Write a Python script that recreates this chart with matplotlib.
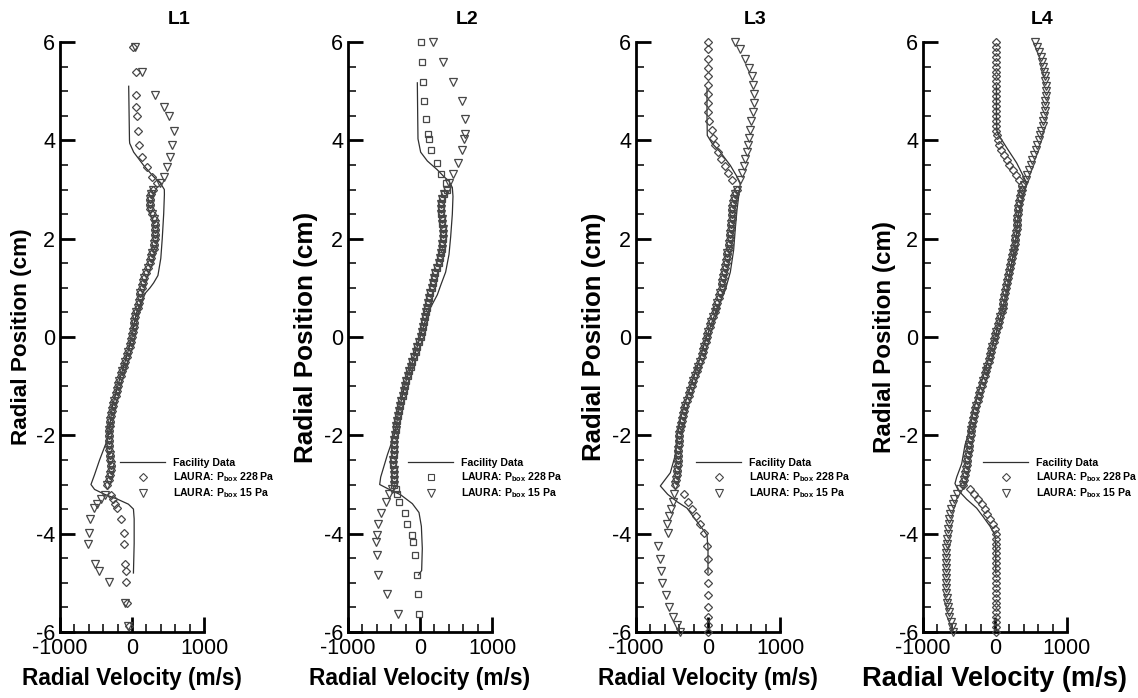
import matplotlib
matplotlib.use("Agg")
import matplotlib.pyplot as plt
from matplotlib.lines import Line2D
from matplotlib.ticker import MultipleLocator, FixedLocator

plt.rcParams['font.family'] = ['Liberation Sans', 'DejaVu Sans']
plt.rcParams['mathtext.fontset'] = 'custom'
plt.rcParams['mathtext.rm'] = 'Liberation Sans'
plt.rcParams['mathtext.bf'] = 'Liberation Sans:bold'
plt.rcParams['mathtext.it'] = 'Liberation Sans:italic'
plt.rcParams['axes.unicode_minus'] = False

# ---------------- data ----------------
titles = ['L1', 'L2', 'L3', 'L4']
legend_labels = ['Facility Data',
                 r'LAURA: P$_{\mathbf{box}}$ 228 Pa',
                 r'LAURA: P$_{\mathbf{box}}$ 15 Pa']

# shared y rows of the dense central part of the LAURA profiles (cm)
y_center = [3.0, 2.9, 2.8, 2.7, 2.6, 2.5, 2.4, 2.3, 2.2, 2.1,
            2.0, 1.9, 1.8, 1.7, 1.6, 1.5, 1.4, 1.3, 1.2, 1.1,
            1.0, 0.9, 0.8, 0.7, 0.6, 0.5, 0.4, 0.3, 0.2, 0.1,
            0.0, -0.1, -0.2, -0.3, -0.4, -0.5, -0.6, -0.7, -0.8, -0.9,
            -1.0, -1.1, -1.2, -1.3, -1.4, -1.5, -1.6, -1.7, -1.8, -1.9,
            -2.0, -2.1, -2.2, -2.3, -2.4, -2.5, -2.6, -2.7, -2.8, -2.9, -3.0]

# ---- L1 ----
L1_y_top = [5.89, 5.39, 4.92, 4.67, 4.50, 4.20, 3.90, 3.67, 3.45, 3.26, 3.13]
L1_228_top = [10, 60, 60, 60, 69, 79, 93, 139, 208, 278, 347]
L1_15_top = [40, 140, 324, 449, 509, 579, 556, 532, 486, 440, 394]
L1_center = [285, 270, 255, 245, 255, 278, 300, 315, 324, 324,
             315, 310, 301, 278, 264, 245, 222, 199, 171, 153,
             139, 116, 106, 93, 79, 60, 46, 32, 23, 14,
             0, -14, -32, -56, -69, -93, -116, -134, -153, -176,
             -194, -208, -227, -245, -264, -278, -292, -301, -310, -315,
             -324, -324, -320, -315, -310, -301, -292, -287, -301, -324, -347]
L1_y_bot = [-3.21, -3.30, -3.39, -3.48, -3.71, -3.98, -4.22, -4.61, -4.75, -4.98, -5.40, -5.88]
L1_228_bot = [-290, -260, -235, -208, -153, -116, -106, -93, -83, -79, -69, -46]
L1_15_bot = [-380, -430, -480, -530, -580, -600, -605, -509, -463, -324, -93, -60]
L1_fac_y = [5.10, 4.50, 4.00, 3.94, 3.76, 3.49, 3.26, 3.13, 3.00, 2.90,
            2.50, 2.00, 1.60, 1.25, 1.10, 1.00, 0.90, 0.75, 0.50, 0.30,
            0.00, -0.40, -0.90, -1.40, -1.90, -2.00, -2.10, -2.50, -2.80, -3.00,
            -3.10, -3.20, -3.30, -3.40, -3.50, -3.70, -4.20, -4.80]
L1_fac_x = [-46, -40, -35, -32, 23, 162, 300, 394, 449, 450,
            440, 420, 400, 360, 300, 250, 190, 140, 65, 32,
            0, -75, -180, -270, -320, -330, -345, -450, -520, -570,
            -520, -380, -200, -50, 20, 30, 30, 20]

# ---- L2 ----
L2_y_top = [6.00, 5.59, 5.18, 4.80, 4.44, 4.12, 4.03, 3.81, 3.54, 3.31, 3.13]
L2_228_top = [19, 23, 37, 56, 88, 106, 125, 157, 231, 296, 356]
L2_15_top = [185, 319, 463, 579, 625, 625, 611, 588, 528, 463, 403]
L2_center = [370, 330, 300, 290, 287, 295, 305, 312, 318, 319,
             315, 310, 300, 290, 278, 264, 240, 215, 195, 180,
             165, 140, 125, 112, 102, 90, 75, 60, 42, 25,
             9, -15, -38, -60, -85, -108, -130, -152, -172, -190,
             -205, -225, -243, -260, -278, -292, -306, -318, -327, -335,
             -345, -355, -361, -365, -368, -370, -370, -365, -361, -361, -365]
L2_y_bot = [-3.10, -3.20, -3.35, -3.57, -3.80, -4.03, -4.16, -4.43, -4.84, -5.23, -5.64]
L2_228_bot = [-340, -320, -292, -208, -176, -116, -93, -69, -46, -28, -15]
L2_15_bot = [-390, -430, -477, -546, -579, -602, -616, -593, -579, -454, -310]
L2_fac_y = [5.17, 4.50, 4.03, 3.76, 3.58, 3.40, 3.26, 3.17, 3.04, 2.86,
            2.50, 2.04, 1.68, 1.32, 1.05, 0.86, 0.50, 0.14, -0.30, -0.90,
            -1.50, -1.94, -2.40, -2.85, -3.00, -3.08, -3.21, -3.39, -3.57, -3.85,
            -4.30, -4.75, -4.84]
L2_fac_x = [-37, -32, -28, 9, 102, 241, 333, 403, 449, 458,
            449, 426, 403, 356, 287, 241, 110, 32, -60, -195,
            -295, -345, -454, -546, -560, -454, -268, -106, -14, 19,
            32, 23, -20]

# ---- L3 ----
L3_y_top = [6.00, 5.85, 5.66, 5.48, 5.30, 5.12, 4.94, 4.76, 4.58, 4.40,
            4.22, 4.05, 3.90, 3.76, 3.62, 3.48, 3.34, 3.20]
L3_228_top = [0, 0, 0, 0, 0, -5, 0, 0, 0, 10, 50, 75, 100, 140, 185, 232, 280, 340]
L3_15_top = [380, 449, 519, 565, 605, 628, 634, 634, 622, 600, 588, 570, 560, 545, 515, 495, 470, 440]
L3_center = [400, 380, 360, 350, 340, 333, 328, 324, 319, 312,
             305, 298, 285, 270, 258, 245, 235, 225, 212, 200,
             188, 170, 152, 130, 110, 93, 70, 48, 25, 5,
             -14, -30, -50, -69, -90, -112, -135, -158, -185, -208,
             -228, -250, -270, -292, -315, -332, -350, -365, -378, -390,
             -398, -403, -407, -410, -414, -418, -422, -427, -433, -445, -460]
L3_y_bot = [-3.20, -3.35, -3.50, -3.65, -3.80, -3.98, -4.25, -4.52, -4.75, -5.00,
            -5.25, -5.49, -5.70, -5.85, -6.00]
L3_228_bot = [-330, -280, -222, -165, -116, -55, -14, 0, 0, 0, 0, -5, 0, 0, 0]
L3_15_bot = [-470, -480, -510, -540, -570, -560, -690, -665, -650, -640, -580, -540, -480, -430, -390]
L3_fac_y = [5.05, 4.50, 4.10, 3.94, 3.76, 3.49, 3.26, 3.13, 2.86, 2.59,
            2.22, 1.77, 1.32, 0.96, 0.50, 0.00, -0.50, -1.00, -1.40, -1.67,
            -2.03, -2.40, -2.76, -2.94, -3.03, -3.20, -3.35, -3.48, -3.71, -3.89,
            -4.03, -4.30, -4.80]
L3_fac_x = [-14, -14, -10, 56, 171, 310, 403, 449, 426, 403,
            380, 356, 310, 241, 105, -20, -125, -240, -330, -384,
            -430, -454, -523, -616, -662, -560, -430, -292, -176, -83,
            -14, 0, 0]

# ---- L4 ----
L4_y_top = [6.0, 5.9, 5.8, 5.7, 5.6, 5.5, 5.4, 5.3, 5.2, 5.1,
            5.0, 4.9, 4.8, 4.7, 4.6, 4.5, 4.4, 4.3, 4.2, 4.1,
            4.0, 3.9, 3.8, 3.7, 3.6, 3.5, 3.4, 3.3, 3.2, 3.1]
L4_228_top = [8, 10, 10, 8, 10, 10, 12, 10, 10, 8,
              10, 10, 12, 10, 10, 12, 12, 15, 18, 25,
              35, 55, 90, 130, 165, 200, 245, 285, 330, 375]
L4_15_top = [556, 585, 610, 640, 655, 670, 680, 690, 697, 702,
             704, 704, 700, 695, 688, 680, 671, 660, 645, 628,
             610, 585, 565, 540, 515, 495, 470, 450, 428, 405]
L4_center = [380, 365, 352, 340, 325, 318, 312, 305, 300, 292,
             283, 272, 260, 248, 233, 220, 208, 196, 183, 170,
             158, 143, 130, 118, 105, 93, 75, 58, 38, 20,
             0, -17, -35, -52, -69, -88, -105, -125, -145, -165,
             -185, -203, -222, -240, -260, -278, -292, -305, -318, -330,
             -338, -345, -356, -365, -375, -385, -394, -402, -410, -425, -440]
L4_y_bot = [-3.1, -3.2, -3.3, -3.4, -3.5, -3.6, -3.7, -3.8, -3.9, -4.0,
            -4.1, -4.2, -4.3, -4.4, -4.5, -4.6, -4.7, -4.8, -4.9, -5.0,
            -5.1, -5.2, -5.3, -5.4, -5.5, -5.6, -5.7, -5.8, -5.9, -6.0]
L4_228_bot = [-347, -290, -231, -185, -140, -105, -70, -30, -5, 10,
              14, 12, 12, 10, 12, 12, 10, 12, 12, 10,
              12, 12, 10, 12, 12, 10, 12, 12, 10, 12]
L4_15_bot = [-480, -532, -565, -590, -605, -620, -632, -642, -650, -658,
             -664, -670, -674, -677, -680, -681, -682, -682, -681, -680,
             -677, -674, -670, -664, -655, -645, -632, -615, -598, -580]
L4_fac_y = [5.10, 4.50, 4.20, 4.12, 3.85, 3.54, 3.27, 3.13, 2.50, 2.00,
            1.50, 1.00, 0.50, 0.00, -0.50, -1.00, -1.50, -1.85, -2.20, -2.58,
            -2.85, -2.98, -3.12, -3.30, -3.48, -3.66, -3.85, -4.03, -4.30, -4.80]
L4_fac_x = [20, 20, 25, 46, 162, 301, 394, 440, 325, 290,
            230, 170, 95, 0, -100, -205, -300, -347, -417, -463,
            -532, -556, -509, -394, -255, -162, -69, 0, 10, 10]

panels = [
    dict(title='L1', fac=(L1_fac_x, L1_fac_y), top=(L1_y_top, L1_228_top, L1_15_top),
         center=L1_center, bot=(L1_y_bot, L1_228_bot, L1_15_bot), m228='D'),
    dict(title='L2', fac=(L2_fac_x, L2_fac_y), top=(L2_y_top, L2_228_top, L2_15_top),
         center=L2_center, bot=(L2_y_bot, L2_228_bot, L2_15_bot), m228='s'),
    dict(title='L3', fac=(L3_fac_x, L3_fac_y), top=(L3_y_top, L3_228_top, L3_15_top),
         center=L3_center, bot=(L3_y_bot, L3_228_bot, L3_15_bot), m228='D'),
    dict(title='L4', fac=(L4_fac_x, L4_fac_y), top=(L4_y_top, L4_228_top, L4_15_top),
         center=L4_center, bot=(L4_y_bot, L4_228_bot, L4_15_bot), m228='D'),
]

# ---------------- layout / style ----------------
W, H = 1138, 698
fig = plt.figure(figsize=(W / 100, H / 100), dpi=100)
lefts_px = [60, 348, 636, 923]
ax_w_px, ax_top_px, ax_bot_px = 144, 42, 632
ylabel_off = [-0.264, -0.29, -0.29, -0.27]
ylabel_fs = [16.2, 18.8, 18.6, 17.4]
xlabel_fs = [16.3, 16.4, 16.3, 19.6]

line_col = '#303030'
mk_col = '#474747'
msize = {'D': 4.4, 's': 5.0, 'v': 5.7}

for i, p in enumerate(panels):
    ax = fig.add_axes([lefts_px[i] / W, (H - ax_bot_px) / H,
                       ax_w_px / W, (ax_bot_px - ax_top_px) / H])
    ax.set_xlim(-1000, 1000)
    ax.set_ylim(-6, 6)
    for s in ['top', 'right']:
        ax.spines[s].set_visible(False)
    for s in ['left', 'bottom']:
        ax.spines[s].set_linewidth(2.0)
    ax.xaxis.set_major_locator(FixedLocator([-1000, 0, 1000]))
    ax.xaxis.set_minor_locator(MultipleLocator(200))
    ax.yaxis.set_major_locator(MultipleLocator(2))
    ax.yaxis.set_minor_locator(MultipleLocator(0.5))
    ax.tick_params(which='major', direction='in', length=11, width=2.0,
                   labelsize=15.5, pad=4)
    ax.tick_params(which='minor', direction='in', length=5.5, width=1.1)
    ax.tick_params(axis='y', which='major', pad=3.5)

    fx, fy = p['fac']
    ax.plot(fx, fy, color=line_col, lw=0.9, zorder=3)

    yt, x228t, x15t = p['top']
    yb, x228b, x15b = p['bot']
    y_all = list(yt) + y_center + list(yb)
    x228_all = list(x228t) + p['center'] + list(x228b)
    x15_all = list(x15t) + p['center'] + list(x15b)
    m228 = p['m228']
    ax.plot(x15_all, y_all, ls='none', marker='v', ms=msize['v'], mfc='none',
            mec=mk_col, mew=0.9, clip_on=False, zorder=4)
    ax.plot(x228_all, y_all, ls='none', marker=m228, ms=msize[m228], mfc='none',
            mec=mk_col, mew=0.9, clip_on=False, zorder=4)

    ax.text(0.825, (ax_bot_px - 20) / (ax_bot_px - ax_top_px), p['title'],
            transform=ax.transAxes, ha='center', va='center',
            fontsize=14, fontweight='bold')

    ax.set_xlabel('Radial Velocity (m/s)', fontsize=xlabel_fs[i], fontweight='bold')
    ax.set_ylabel('Radial Position (cm)', fontsize=ylabel_fs[i], fontweight='bold')
    ax.xaxis.set_label_coords(0.5, -(679 - ax_bot_px) / (ax_bot_px - ax_top_px))
    ax.xaxis.label.set_va('center')
    ax.yaxis.set_label_coords(ylabel_off[i], 0.5)
    ax.yaxis.label.set_va('center')

    handles = [Line2D([], [], color=line_col, lw=0.9),
               Line2D([], [], ls='none', marker=m228, ms=msize[m228] * 0.9, mfc='none',
                      mec=mk_col, mew=0.8),
               Line2D([], [], ls='none', marker='v', ms=msize['v'] * 0.9, mfc='none',
                      mec=mk_col, mew=0.8)]
    ax.legend(handles, legend_labels, loc='upper left',
              bbox_to_anchor=(60 / ax_w_px, (ax_bot_px - 458) / (ax_bot_px - ax_top_px)),
              frameon=False, prop={'size': 7.6, 'weight': 'bold'},
              handlelength=4.3, handletextpad=0.7, labelspacing=0.22,
              borderpad=0, borderaxespad=0, numpoints=1)

fig.savefig('out.png', dpi=100)
